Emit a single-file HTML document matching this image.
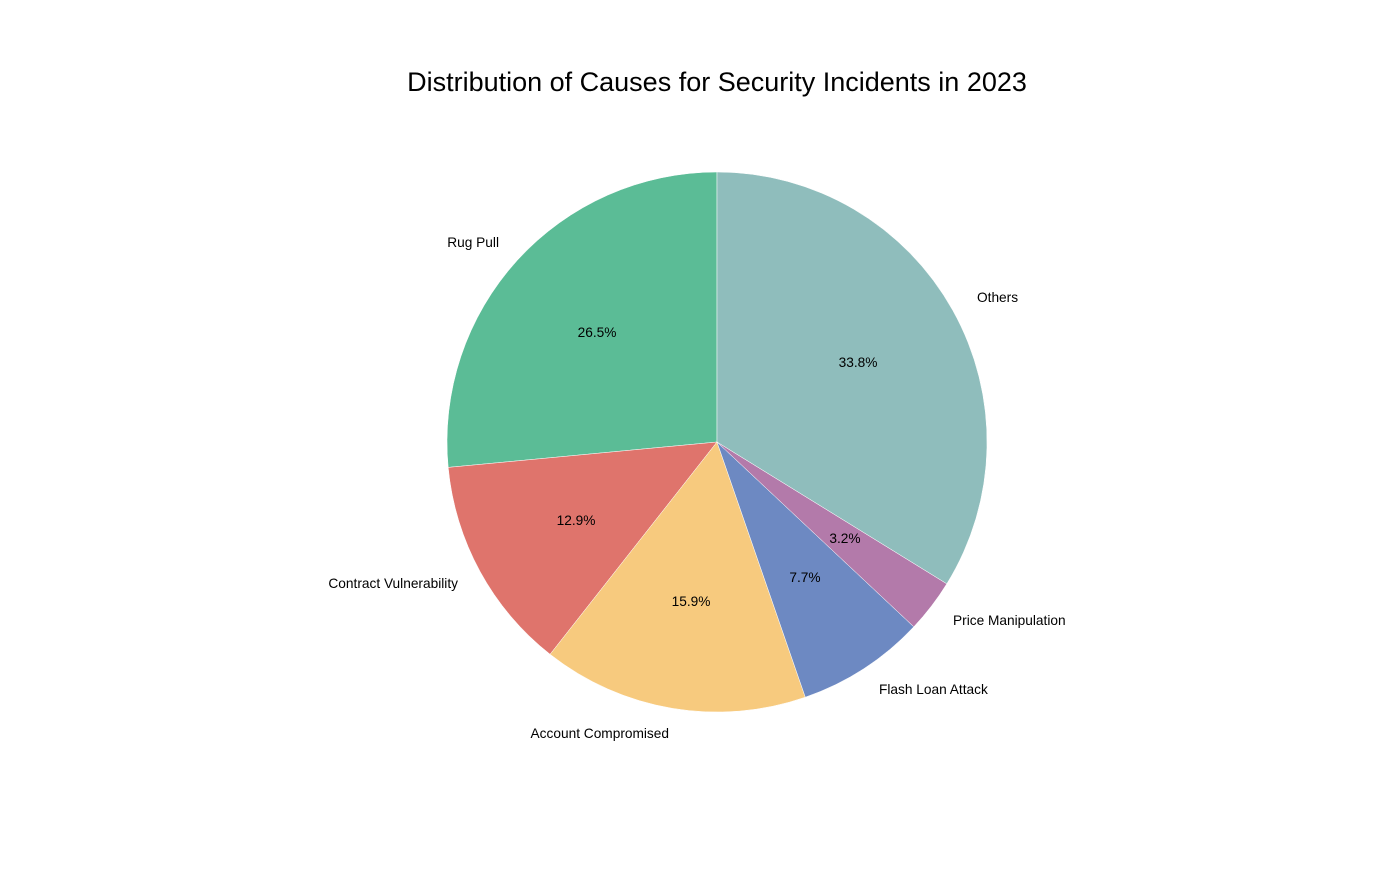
<!DOCTYPE html>
<html><head><meta charset="utf-8"><style>
html,body{margin:0;padding:0;background:#fff;}
svg{display:block;font-family:"Liberation Sans",Arial,sans-serif;}
</style></head><body>
<svg width="1400" height="875" viewBox="0 0 1400 875">
<rect width="1400" height="875" fill="#fff"/>
<text x="717" y="91" font-size="27" text-anchor="middle" fill="#000">Distribution of Causes for Security Incidents in 2023</text>
<g stroke="#fff" stroke-width="0.5">
<path d="M717,442 L717,172 A270,270 0 0 0 448.2,467.4 Z" fill="#5bbc96"/>
<path d="M717,442 L448.2,467.4 A270,270 0 0 0 550.1,654.3 Z" fill="#df746c"/>
<path d="M717,442 L550.1,654.3 A270,270 0 0 0 805.3,697.2 Z" fill="#f7ca7e"/>
<path d="M717,442 L805.3,697.2 A270,270 0 0 0 913.8,626.8 Z" fill="#6d89c2"/>
<path d="M717,442 L913.8,626.8 A270,270 0 0 0 946.8,583.8 Z" fill="#b37aaa"/>
<path d="M717,442 L946.8,583.8 A270,270 0 0 0 717,172 Z" fill="#8fbdbc"/>
</g>
<g font-size="13.7" fill="#000">
<text x="499" y="247" text-anchor="end">Rug Pull</text>
<text x="458" y="588" text-anchor="end">Contract Vulnerability</text>
<text x="669" y="738" text-anchor="end">Account Compromised</text>
<text x="879" y="694" text-anchor="start">Flash Loan Attack</text>
<text x="953" y="625" text-anchor="start">Price Manipulation</text>
<text x="977" y="302" text-anchor="start">Others</text>
<g text-anchor="middle">
<text x="597" y="337">26.5%</text>
<text x="576" y="525">12.9%</text>
<text x="691" y="606">15.9%</text>
<text x="805" y="582">7.7%</text>
<text x="845" y="543">3.2%</text>
<text x="858" y="367">33.8%</text>
</g>
</g>
</svg>
</body></html>
